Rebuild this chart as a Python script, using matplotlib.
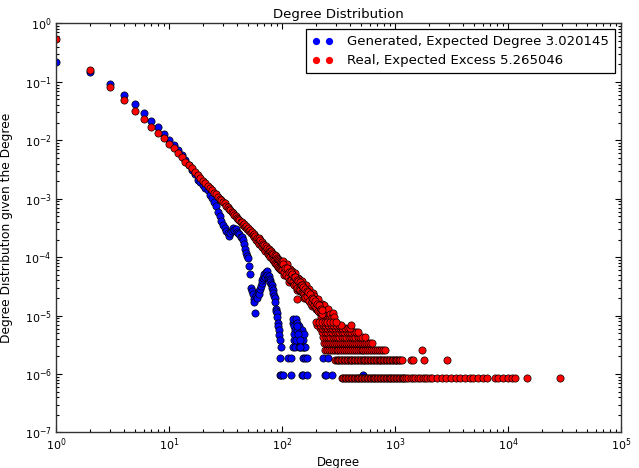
import matplotlib
matplotlib.use("Agg")
import matplotlib.pyplot as plt
from matplotlib.lines import Line2D

# ---------------- data ----------------
gen_deg = [1, 2, 3, 4, 5, 6, 7, 8, 9, 10,
           11, 12, 13, 14, 15, 16, 17, 18, 19, 20,
           21, 22, 23, 24, 25, 26, 27, 28, 29, 30,
           31, 32, 33, 34, 35, 36, 37, 38, 39, 40,
           41, 42, 43, 44, 45, 46, 47, 48, 49, 50,
           51, 52, 53, 54, 55, 56, 57, 58, 59, 60,
           61, 62, 63, 64, 65, 66, 67, 68, 69, 70,
           71, 72, 73, 74, 75, 76, 77, 78, 79, 80,
           81, 82, 83, 84, 85, 86, 87, 88, 89, 90,
           91, 92, 93, 94, 95]
gen_prob = [0.22, 0.145, 0.093, 0.060, 0.042, 0.029, 0.021, 0.017, 0.013, 0.0102,
            0.0084, 0.0068, 0.0056, 0.0046, 0.0038, 0.0031, 0.0026, 0.0021, 0.0019, 0.0017,
            0.0015, 0.0014, 0.00118, 0.00102, 0.00088, 0.00076, 0.00059, 0.00050, 0.00041, 0.00035,
            0.00031, 0.00028, 0.00026, 0.00023, 0.00026, 0.00028, 0.00031, 0.00029, 0.00030, 0.00027,
            0.00026, 0.00025, 0.00022, 0.00022, 0.00020, 0.00017, 0.00014, 0.00012, 0.000105, 9.5e-5,
            7.0e-5, 5.2e-5, 3.0e-5, 2.6e-5, 2.3e-5, 1.9e-5, 1.7e-5, 1.1e-5, 2.2e-5, 2.0e-5,
            2.4e-5, 2.6e-5, 2.3e-5, 2.8e-5, 3.2e-5, 3.6e-5, 4.0e-5, 4.4e-5, 4.8e-5, 5.2e-5,
            4.6e-5, 5.5e-5, 5.8e-5, 5.0e-5, 4.4e-5, 4.7e-5, 4.2e-5, 4.0e-5, 3.8e-5, 3.5e-5,
            3.3e-5, 3.0e-5, 2.7e-5, 2.4e-5, 2.2e-5, 2.0e-5, 1.7e-5, 1.3e-5, 1.2e-5, 1.1e-5,
            9.5e-6, 7.6e-6, 6.6e-6, 5.7e-6, 4.7e-6]
# generated: sparse tail (degree, probability)
gen_tail_deg = [124, 126, 128, 130, 132, 134, 136, 138, 140, 142, 144, 146, 148, 150,
                152, 154, 156, 158, 160, 125, 127, 129, 131, 133, 135, 137, 139, 141,
                143, 145, 96, 99,
                96, 113, 121, 154, 160, 165, 232, 256,
                96, 98, 102, 121, 150, 155, 165, 240, 247, 275, 525]
gen_tail_prob = [7.6e-6, 8.6e-6, 6.7e-6, 5.7e-6, 8.6e-6, 4.75e-6, 7.6e-6, 3.8e-6, 5.7e-6,
                 6.7e-6, 4.75e-6, 2.85e-6, 3.8e-6, 5.7e-6, 2.85e-6, 3.8e-6, 2.85e-6, 4.75e-6,
                 2.85e-6, 2.85e-6, 3.8e-6, 4.75e-6, 2.85e-6, 3.8e-6, 5.7e-6, 6.7e-6, 4.75e-6,
                 2.85e-6, 3.8e-6, 2.85e-6, 3.8e-6, 2.85e-6,
                 1.9e-6, 1.9e-6, 1.9e-6, 1.9e-6, 1.9e-6, 1.9e-6, 1.9e-6, 1.9e-6,
                 9.5e-7, 9.5e-7, 9.5e-7, 9.5e-7, 9.5e-7, 9.5e-7, 9.5e-7, 9.5e-7, 9.5e-7,
                 9.5e-7, 9.5e-7]

real_deg = list(range(1, 101)) + [
    102, 104, 106, 108, 110, 112, 114, 116, 118, 120,
    122, 124, 126, 128, 130, 132, 134, 136, 138, 140,
    142, 144, 146, 148, 150, 152, 154, 156, 158, 160,
    163, 166, 169, 172, 175, 178, 181, 184, 187, 190,
    194, 198, 202, 206, 210, 214, 218, 222, 226, 230,
    235, 240, 245, 250, 256, 262, 268, 275, 282, 290, 135]
real_prob = [0.55, 0.16, 0.083, 0.049, 0.032, 0.023, 0.017, 0.0135, 0.011, 0.0088,
             7.3e-3, 6.0e-3, 5.1e-3, 4.3e-3, 3.75e-3, 3.3e-3, 2.9e-3, 2.55e-3, 2.3e-3, 2.05e-3,
             1.86e-3, 1.67e-3, 1.52e-3, 1.41e-3, 1.27e-3, 1.19e-3, 1.08e-3, 1.0e-3, 9.5e-4, 8.7e-4,
             8.3e-4, 7.6e-4, 7.3e-4, 6.6e-4, 6.4e-4, 5.9e-4, 5.7e-4, 5.2e-4, 5.1e-4, 4.7e-4,
             4.5e-4, 4.4e-4, 4.0e-4, 3.95e-4, 3.6e-4, 3.7e-4, 3.3e-4, 3.35e-4, 3.0e-4, 3.1e-4,
             2.8e-4, 2.9e-4, 2.55e-4, 2.7e-4, 2.35e-4, 2.5e-4, 2.2e-4, 2.3e-4, 1.95e-4, 2.15e-4,
             1.85e-4, 2.1e-4, 1.7e-4, 1.95e-4, 1.6e-4, 1.85e-4, 1.5e-4, 1.7e-4, 1.4e-4, 1.62e-4,
             1.3e-4, 1.55e-4, 1.25e-4, 1.45e-4, 1.15e-4, 1.38e-4, 1.08e-4, 1.3e-4, 1.02e-4, 1.25e-4,
             9.6e-5, 1.2e-4, 9.0e-5, 1.13e-4, 8.6e-5, 1.08e-4, 8.1e-5, 1.04e-4, 7.7e-5, 9.8e-5,
             7.3e-5, 9.4e-5, 6.9e-5, 9.0e-5, 6.6e-5, 8.6e-5, 6.3e-5, 8.3e-5, 6.0e-5, 8.0e-5,
             8.5e-5, 5.0e-5, 7.2e-5, 5.2e-5, 7.5e-5, 4.5e-5, 5.7e-5, 3.8e-5, 6.3e-5, 4.3e-5,
             5.9e-5, 3.6e-5, 5.0e-5, 3.5e-5, 5.3e-5, 3.2e-5, 4.0e-5, 2.7e-5, 4.4e-5, 3.1e-5,
             4.3e-5, 2.6e-5, 3.6e-5, 2.6e-5, 3.9e-5, 2.4e-5, 3.0e-5, 2.0e-5, 3.4e-5, 2.3e-5,
             3.3e-5, 1.9e-5, 2.7e-5, 1.9e-5, 2.9e-5, 1.7e-5, 2.2e-5, 1.45e-5, 2.4e-5, 1.6e-5,
             2.2e-5, 1.3e-5, 1.85e-5, 1.3e-5, 1.95e-5, 1.15e-5, 1.4e-5, 9.5e-6, 1.6e-5, 1.1e-5,
             1.5e-5, 8.6e-6, 1.2e-5, 8.6e-6, 1.3e-5, 8.6e-6, 1.05e-5, 9.5e-6, 1.1e-5, 9.5e-6, 1.9e-5]
real_deg_odd = [101, 103, 105, 107, 109, 111, 113, 115, 117, 119,
                121, 123, 125, 127, 129, 131, 133, 135, 137, 139,
                141, 143, 145, 147, 149, 151, 153, 155, 157, 159,
                161, 165, 167, 171, 173, 177, 179, 183, 185, 189,
                192, 196, 200, 204, 208, 212, 216, 220, 224, 228]
real_prob_odd = [6.1e-5, 7.6e-5, 5.5e-5, 6.6e-5, 4.9e-5, 6.4e-5, 4.6e-5, 5.6e-5, 4.0e-5, 5.5e-5,
                 4.0e-5, 5.2e-5, 3.9e-5, 4.6e-5, 3.4e-5, 4.6e-5, 3.3e-5, 4.1e-5, 3.0e-5, 3.9e-5,
                 2.9e-5, 3.8e-5, 2.7e-5, 3.4e-5, 2.5e-5, 3.3e-5, 2.4e-5, 3.1e-5, 2.3e-5, 2.9e-5,
                 2.1e-5, 2.6e-5, 2.2e-5, 2.5e-5, 1.8e-5, 2.3e-5, 1.6e-5, 2.0e-5, 1.7e-5, 1.9e-5,
                 1.5e-5, 1.8e-5, 1.4e-5, 1.6e-5, 1.2e-5, 1.5e-5, 1.2e-5, 1.3e-5, 1.05e-5, 1.25e-5]

# real: low-count rows (probability level -> degrees seen at that level)
real_row_levels = [8.6e-7, 1.72e-6, 2.58e-6, 3.44e-6, 4.3e-6, 5.16e-6, 6.02e-6, 6.88e-6, 7.74e-6]
real_row_degs = [
    [340, 350, 361, 372, 383, 394, 406, 418, 431, 444, 457, 471, 485, 500, 515, 530, 546,
     563, 580, 597, 615, 633, 652, 672, 692, 713, 734, 756, 779, 802, 826, 851, 877, 903,
     930, 958, 987, 1016, 1047, 1078, 1110, 1144, 1178, 1213, 1250, 1312, 1378, 1447, 1519,
     1595, 1675, 1759, 1847, 1939, 2036, 2140, 2350, 2590, 2850, 3130, 3450, 3790, 4170,
     4600, 4920, 5440, 6010, 6470, 7670, 8210, 9080, 10070, 10790, 11530, 14600, 29000],
    [295, 304, 313, 322, 332, 342, 352, 363, 374, 385, 396, 408, 420, 433, 446, 459, 473,
     487, 502, 517, 532, 548, 565, 582, 599, 617, 636, 655, 675, 695, 716, 737, 759, 782,
     805, 830, 855, 880, 907, 934, 962, 991, 1020, 1051, 1083, 1115, 1150, 1400, 1450,
     1800, 2860],
    [240, 250, 260, 270, 281, 292, 304, 316, 329, 342, 355, 370, 384, 400, 416, 432, 450,
     468, 486, 506, 526, 547, 569, 592, 615, 640, 665, 692, 720, 748, 778, 810, 1720],
    [235, 245, 255, 266, 277, 289, 301, 313, 326, 340, 354, 369, 384, 400, 417, 434, 452,
     471, 491, 512, 533, 555, 578, 602, 620],
    [232, 243, 255, 267, 280, 293, 307, 322, 337, 353, 370, 388, 406, 425, 445, 466, 488,
     512, 540],
    [228, 240, 252, 265, 278, 292, 307, 322, 338, 355, 373, 392, 412, 433, 455, 470],
    [215, 227, 239, 252, 265, 279, 294, 310, 326, 343, 362, 381, 401],
    [205, 217, 229, 242, 256, 270, 285, 301, 318, 336, 405],
    [200, 212, 225, 238, 252, 267, 283, 300],
]

gen_label = "Generated, Expected Degree 3.020145"
real_label = "Real, Expected Excess 5.265046"
title = "Degree Distribution"
xlabel = "Degree"
ylabel = "Degree Distribution given the Degree"

# ---------------- figure ----------------
plt.rcParams['font.family'] = ['DejaVu Sans']
plt.rcParams['axes.unicode_minus'] = False

fig = plt.figure(figsize=(6.39, 4.68), dpi=100)
ax = fig.add_axes([0.0876, 0.0759, 0.9718 - 0.0876, 0.950 - 0.0759])

mk = dict(linestyle='none', marker='o', markersize=5.2,
          markeredgecolor='black', markeredgewidth=0.5)

ax.plot(gen_deg, gen_prob, color='blue', **mk)
ax.plot(gen_tail_deg, gen_tail_prob, color='blue', **mk)

real_x = list(real_deg) + list(real_deg_odd)
real_y = list(real_prob) + list(real_prob_odd)
for lvl, degs in zip(real_row_levels, real_row_degs):
    real_x += degs
    real_y += [lvl] * len(degs)
ax.plot(real_x, real_y, color='red', **mk)

ax.set_xscale('log')
ax.set_yscale('log')
ax.set_xlim(1, 1e5)
ax.set_ylim(1e-7, 1)

ax.tick_params(which='both', direction='in', top=True, right=True,
               labelsize=8, width=0.8, colors='black')
ax.tick_params(which='major', length=4.5, pad=3)
ax.tick_params(which='minor', length=2.2)
for s in ax.spines.values():
    s.set_linewidth(1.0)
    s.set_color('#333333')

ax.set_title(title, fontsize=9.5, pad=4)
ax.set_xlabel(xlabel, fontsize=8.5)
ax.set_ylabel(ylabel, fontsize=8.8)
ax.xaxis.set_label_coords(0.5, -0.057)
ax.yaxis.set_label_coords(-0.076, 0.5)

handles = [Line2D([], [], linestyle='none', marker='o', markersize=4.2, color='blue', markeredgecolor='blue'),
           Line2D([], [], linestyle='none', marker='o', markersize=4.2, color='red', markeredgecolor='red')]
leg = ax.legend(handles, [gen_label, real_label], loc='upper right', numpoints=2,
                fontsize=9.5, fancybox=False, framealpha=1, edgecolor='black',
                handlelength=1.6, handletextpad=1.1, borderpad=0.45, labelspacing=0.45,
                borderaxespad=0.45)
leg.get_frame().set_linewidth(0.9)

fig.savefig('out.png', dpi=100)
